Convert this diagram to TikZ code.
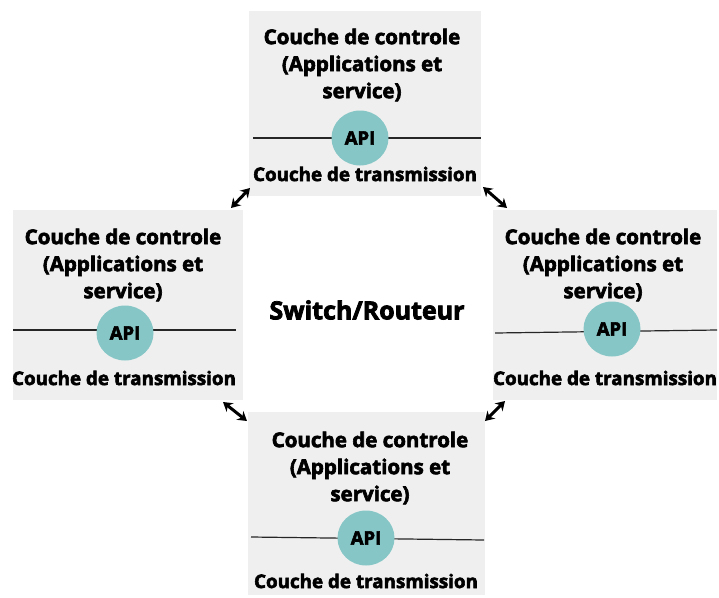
\documentclass[tikz,border=0pt]{standalone}
\usepackage{fontspec}
\setmainfont{Open Sans}[BoldFeatures={FakeBold=3}]
\usetikzlibrary{arrows.meta,shapes.geometric}
\definecolor{layergray}{HTML}{EFEFEF}
\definecolor{apiteal}{HTML}{86C6C6}
\begin{document}
\begin{tikzpicture}[
		x=1pt,y=-1pt,
		layer/.style={fill=layergray,draw=none,inner sep=0pt},
		title/.style={align=center,font=\bfseries\fontsize{20.5}{27}\selectfont},
		trans/.style={font=\bfseries\fontsize{18.8}{22}\selectfont},
		api/.style={ellipse,fill=apiteal,minimum width=57pt,minimum height=55pt,inner sep=0pt,font=\bfseries\fontsize{18.5}{22}\selectfont},
		bus/.style={line width=1.2pt,color=black!85},
		link/.style={{Stealth[length=9pt,width=11pt]}-{Stealth[length=9pt,width=11pt]},line width=3pt}
	]
	\useasboundingbox (0,0) rectangle (719,597);

	\node[layer,minimum width=232pt,minimum height=185pt] (top) at (365,103.5) {};
	\node[layer,minimum width=230pt,minimum height=190pt] (left) at (128,305) {};
	\node[layer,minimum width=224pt,minimum height=190pt] (right) at (605,305) {};
	\node[layer,minimum width=237pt,minimum height=183pt] (bottom) at (366.5,503.5) {};

	\node[title] (toptitle) at (362,65) {Couche de controle\\(Applications et\\service)};
	\draw[bus] (253,138) -- (481,138);
	\node[api] (topapi) at (360,138) {API};
	\node[trans] (toptrans) at (365,174) {Couche de transmission};

	\node[title] (lefttitle) at (123,265) {Couche de controle\\(Applications et\\service)};
	\draw[bus] (13,330) -- (236,330);
	\node[api] (leftapi) at (125,333) {API};
	\node[trans] (lefttrans) at (124,378) {Couche de transmission};

	\node[title] (righttitle) at (603,265) {Couche de controle\\(Applications et\\service)};
	\draw[bus] (495,333) -- (717,330);
	\node[api] (rightapi) at (612,329) {API};
	\node[trans] (righttrans) at (605,378) {Couche de transmission};

	\node[title] (bottomtitle) at (370,468) {Couche de controle\\(Applications et\\service)};
	\draw[bus] (251,537) -- (484,540);
	\node[api] (bottomapi) at (366,538) {API};
	\node[trans] (bottomtrans) at (366,581) {Couche de transmission};

	\node[font=\bfseries\fontsize{25}{28}\selectfont] (switch) at (367,310) {Switch/Routeur};

	\coordinate (tl1) at (231,208);
	\coordinate (tl2) at (250,188);
	\coordinate (tr1) at (483,187);
	\coordinate (tr2) at (507,208);
	\coordinate (bl1) at (223,402);
	\coordinate (bl2) at (247,421);
	\coordinate (br1) at (485,421);
	\coordinate (br2) at (505,401);
	\draw[link] (tl1) -- (tl2);
	\draw[link] (tr1) -- (tr2);
	\draw[link] (bl1) -- (bl2);
	\draw[link] (br1) -- (br2);
\end{tikzpicture}
\end{document}
